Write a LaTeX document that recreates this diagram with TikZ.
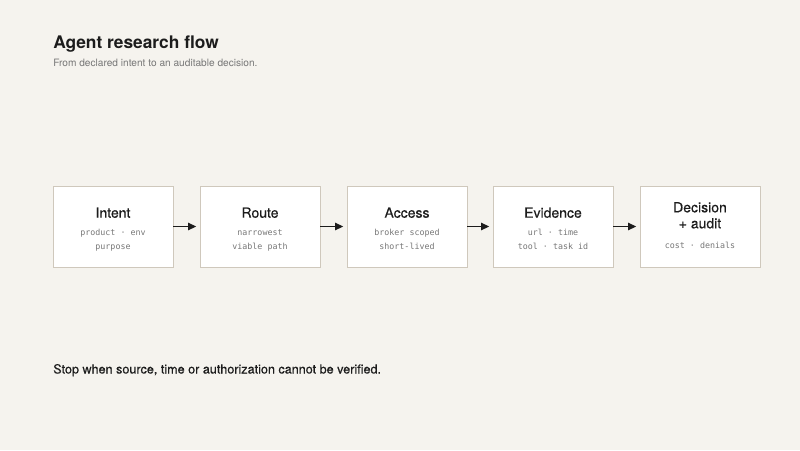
\documentclass[tikz,border=0pt]{standalone}
\usepackage{fontspec}
\setmainfont{TeX Gyre Heros}
\newfontfamily\medfont[FakeBold=0.35]{TeX Gyre Heros}
\newfontfamily\monofont{DejaVu Sans Mono}
\usetikzlibrary{arrows.meta}
\definecolor{bg}{HTML}{F5F3EE}
\definecolor{boxline}{HTML}{CFC8BC}
\definecolor{ink}{HTML}{1C1C1C}
\definecolor{subgrey}{HTML}{777777}
\definecolor{monogrey}{HTML}{777777}
\begin{document}
\begin{tikzpicture}[x=0.75pt,y=-0.75pt,
  stagebox/.style={draw=boxline,fill=white,line width=0.7pt,minimum width=90pt,minimum height=60.75pt,inner sep=0pt},
  stagetitle/.style={anchor=base,text=ink,font=\medfont\fontsize{10.5pt}{12pt}\selectfont,inner sep=0pt},
  stagemono/.style={anchor=base,text=monogrey,font=\monofont\fontsize{6.25pt}{8pt}\selectfont,inner sep=0pt},
  flowarrow/.style={draw=ink,line width=0.9pt,-{Triangle[length=6pt,width=5.5pt]},shorten >=2.5pt}]
\fill[bg] (0,0) rectangle (800,450);
\useasboundingbox (0,0) rectangle (800,450);
% header
\node[anchor=base west,inner sep=0pt,text=ink,font=\fontsize{13pt}{15pt}\selectfont\bfseries] (title) at (53,48) {Agent research flow};
\node[anchor=base west,inner sep=0pt,text=subgrey,font=\fontsize{7.6pt}{10pt}\selectfont] (subtitle) at (53,66) {From declared intent to an auditable decision.};
% boxes
\node[stagebox] (intent) at (113,226.5) {};
\node[stagebox] (route) at (260,226.5) {};
\node[stagebox] (access) at (407,226.5) {};
\node[stagebox] (evidence) at (553,226.5) {};
\node[stagebox] (decision) at (700,226.5) {};
% texts
\node[stagetitle] (intentT) at (113,217.7) {Intent};
\node[stagemono] (intentA) at (113,235.7) {product · env};
\node[stagemono] (intentB) at (113,249.3) {purpose};
\node[stagetitle] (routeT) at (260,217.7) {Route};
\node[stagemono] (routeA) at (260,235.7) {narrowest};
\node[stagemono] (routeB) at (260,249.3) {viable path};
\node[stagetitle] (accessT) at (407,217.7) {Access};
\node[stagemono] (accessA) at (407,235.7) {broker scoped};
\node[stagemono] (accessB) at (407,249.3) {short-lived};
\node[stagetitle] (evidenceT) at (553,217.7) {Evidence};
\node[stagemono] (evidenceA) at (553,235.7) {url · time};
\node[stagemono] (evidenceB) at (553,249.3) {tool · task id};
\node[stagetitle] (decisionT) at (700,212.3) {Decision};
\node[stagetitle] (decisionU) at (700,228.3) {+ audit};
\node[stagemono] (decisionA) at (700,248.3) {cost · denials};
% arrows
\draw[flowarrow] (intent) -- (route);
\draw[flowarrow] (route) -- (access);
\draw[flowarrow] (access) -- (evidence);
\draw[flowarrow] (evidence) -- (decision);
% footer
\node[anchor=base west,inner sep=0pt,text=ink,font=\medfont\fontsize{9.45pt}{12pt}\selectfont] (footer) at (53,373.5) {Stop when source, time or authorization cannot be verified.};
\end{tikzpicture}
\end{document}
